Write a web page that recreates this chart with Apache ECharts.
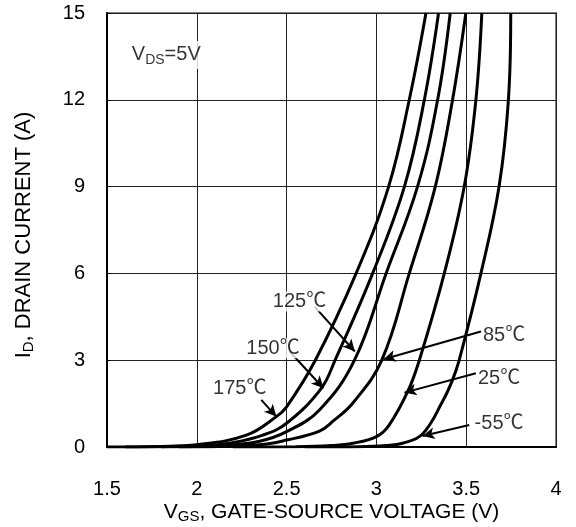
<!DOCTYPE html>
<html>
<head>
<meta charset="utf-8">
<script src="https://cdn.jsdelivr.net/npm/echarts@6/dist/echarts.min.js"></script>
<style>
  html, body { margin: 0; padding: 0; background: #fff; }
  #main { width: 576px; height: 527px; }
</style>
</head>
<body>
<div id="main"></div>
<script>
// 温度曲线  名称
var curveNames = ['175℃', '150℃', '125℃', '85℃', '25℃', '-55℃'];

// VGS (V)
var vgs175 = [1.5, 1.8, 2.0, 2.276, 2.443, 2.5, 2.66, 2.887, 3.068, 3.183, 3.276];
var vgs150 = [1.6, 2.05, 2.2, 2.368, 2.5, 2.69, 2.77, 2.979, 3.156, 3.267, 3.346];
var vgs125 = [1.8, 2.15, 2.35, 2.5, 2.683, 2.878, 3.054, 3.229, 3.341, 3.411];
var vgs85  = [1.9, 2.35, 2.5, 2.683, 2.76, 2.869, 3.03, 3.183, 3.328, 3.424, 3.498];
var vgs25  = [2.2, 2.55, 2.75, 2.869, 3.0, 3.07, 3.174, 3.239, 3.378, 3.489, 3.554, 3.587];
var vgsM55 = [2.6, 2.9, 3.054, 3.146, 3.257, 3.368, 3.424, 3.461, 3.582, 3.683, 3.735, 3.748];

// ID (A)
var id175 = [0, 0.02, 0.08, 0.41, 1.05, 1.39, 3, 6, 9, 12, 15];
var id150 = [0, 0.05, 0.15, 0.41, 0.82, 2.0, 3, 6, 9, 12, 15];
var id125 = [0, 0.05, 0.2, 0.53, 1.28, 3, 6, 9, 12, 15];
var id85  = [0, 0.08, 0.24, 0.55, 0.9, 1.52, 3, 6, 9, 12, 15];
var id25  = [0, 0.01, 0.05, 0.13, 0.36, 0.75, 1.91, 3, 6, 9, 12, 15];
var idM55 = [0, 0.01, 0.05, 0.13, 0.45, 1.57, 2.32, 3, 6, 9, 12, 15];

// 坐标轴 刻度
var xTicks = [1.5, 2, 2.5, 3, 3.5, 4];
var yTicks = [0, 3, 6, 9, 12, 15];

// 标注：文字位置 + 箭头 (数据坐标)
var labelPos   = [[2.239, 2.03], [2.424, 3.41], [2.572, 5.03], [3.711, 3.87], [3.683, 2.38], [3.683, 0.80]];
var arrowStart = [[2.359, 1.63], [2.517, 3.30], [2.656, 4.85], [3.582, 3.99], [3.554, 2.55], [3.517, 0.76]];
var arrowEnd   = [[2.443, 1.05], [2.705, 2.03], [2.880, 3.30], [3.040, 3.03], [3.156, 1.88], [3.257, 0.38]];

var vgsList = [vgs175, vgs150, vgs125, vgs85, vgs25, vgsM55];
var idList = [id175, id150, id125, id85, id25, idM55];

var FONT = 'Liberation Sans, Arial, Noto Sans CJK SC, sans-serif';

function zip(xs, ys) {
    var out = [];
    for (var i = 0; i < xs.length; i++) out.push([xs[i], ys[i]]);
    return out;
}

// 下标 rich 样式
function richSub(size) {
    return {
        a: { fontFamily: FONT, fontSize: size, color: '#000', lineHeight: 24 },
        s: { fontFamily: FONT, fontSize: Math.round(size * 0.7), color: '#000', lineHeight: 24, padding: [10, 0, 0, 0] }
    };
}

var series = [];
for (var k = 0; k < curveNames.length; k++) {
    series.push({
        name: curveNames[k],
        type: 'line',
        data: zip(vgsList[k], idList[k]),
        showSymbol: false,
        smooth: 0.4,
        lineStyle: { color: '#000', width: 3 },
        silent: true,
        z: 3,
        markLine: {
            silent: true,
            symbol: ['none', 'arrow'],
            symbolSize: [9, 12],
            lineStyle: { color: '#000', width: 2, type: 'solid' },
            label: { show: false },
            data: [[{ coord: arrowStart[k] }, { coord: arrowEnd[k] }]]
        }
    });
}

// 文字标注
series.push({
    type: 'scatter',
    symbolSize: 0,
    silent: true,
    z: 5,
    data: labelPos.map(function (p, i) { return { value: p, name: curveNames[i] }; }),
    label: {
        show: true,
        position: 'inside',
        formatter: '{b}',
        color: '#000',
        fontFamily: FONT,
        fontSize: 20,
        backgroundColor: '#fff',
        padding: [0, 1]
    }
});

// VDS=5V
series.push({
    type: 'scatter',
    symbolSize: 0,
    silent: true,
    z: 5,
    data: [{ value: [1.83, 13.55], name: 'VDS' }],
    label: {
        show: true,
        position: 'inside',
        formatter: '{a|V}{s|DS}{a|=5V}',
        backgroundColor: '#fff',
        padding: [2, 2],
        rich: richSub(20)
    }
});

var option = {
    backgroundColor: '#fff',
    animation: false,
    grid: {
        left: 107, right: 20, top: 13, bottom: 80,
        outerBoundsMode: 'none',
        containLabel: false,
        show: true,
        borderColor: '#808080',
        borderWidth: 2
    },
    xAxis: {
        type: 'value',
        min: 1.5, max: 4, interval: 0.5,
        name: '{a|V}{s|GS}{a|, GATE-SOURCE VOLTAGE (V)}',
        nameLocation: 'middle',
        nameGap: 53,
        nameMoveOverlap: false,
        nameTextStyle: { rich: richSub(21) },
        axisLine: { show: true, lineStyle: { color: '#000', width: 2 } },
        axisTick: { show: false },
        axisLabel: {
            margin: 32,
            color: '#000',
            fontFamily: FONT,
            fontSize: 20,
            customValues: xTicks
        },
        splitLine: { show: true, lineStyle: { color: '#222', width: 1 } }
    },
    yAxis: {
        type: 'value',
        min: 0, max: 15, interval: 3,
        name: '{a|I}{s|D}{a|, DRAIN CURRENT (A)}',
        nameLocation: 'middle',
        nameRotate: 90,
        nameGap: 71,
        nameMoveOverlap: false,
        nameTextStyle: { rich: richSub(22), padding: [0, 10, 0, 0] },
        axisLine: { show: true, lineStyle: { color: '#000', width: 2 } },
        axisTick: { show: true, inside: true, length: 4, lineStyle: { color: '#000', width: 1 } },
        axisLabel: {
            margin: 22,
            color: '#000',
            fontFamily: FONT,
            fontSize: 20,
            customValues: yTicks
        },
        splitLine: { show: true, lineStyle: { color: '#222', width: 1 } }
    },
    series: series
};

var chart = echarts.init(document.getElementById('main'));
chart.setOption(option);
</script>
</body>
</html>
